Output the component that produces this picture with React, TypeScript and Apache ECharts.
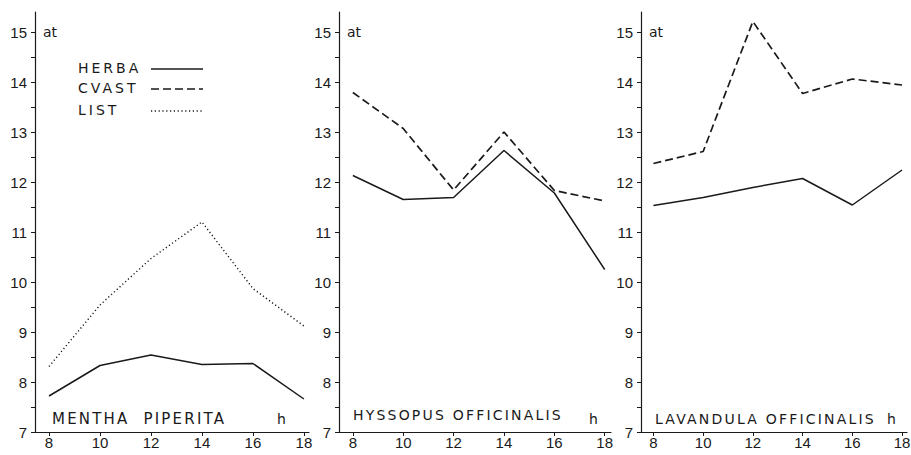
import React, { useEffect, useRef } from "react";
import * as echarts from "echarts";

// ---- data ----
const hours = [8, 10, 12, 14, 16, 18];
const yLabelValues = [7, 8, 9, 10, 11, 12, 13, 14, 15];
const yTickValues = [7, 7.5, 8, 8.5, 9, 9.5, 10, 10.5, 11, 11.5, 12, 12.5, 13, 13.5, 14, 14.5, 15];

const menthaHerba = [7.72, 8.33, 8.54, 8.35, 8.37, 7.66];
const menthaList = [8.31, 9.54, 10.47, 11.2, 9.87, 9.12];

const hyssopusHerba = [12.13, 11.65, 11.69, 12.63, 11.78, 10.25];
const hyssopusCvast = [13.79, 13.07, 11.84, 13.0, 11.83, 11.62];

const lavandulaHerba = [11.53, 11.69, 11.89, 12.07, 11.54, 12.24];
const lavandulaCvast = [12.37, 12.61, 15.21, 13.77, 14.06, 13.94];

const speciesNames = ["MENTHA  PIPERITA", "HYSSOPUS OFFICINALIS", "LAVANDULA OFFICINALIS"];
const legendNames = ["HERBA", "CVAST", "LIST"];

const INK = "#1a1a1a";
const FONT = "DejaVu Sans";
const NUM_FONT = "Liberation Sans Narrow, Liberation Sans";
const SPACED = "DejaVu Sans, Roboto";
const WIDE = "DejaVu Sans, Lato";

const pairs = (vals: number[]) => hours.map((h, i) => [h, vals[i]]);

const panels = [
  { left: 35, width: 274, xMin: 7.45, xMax: 18.2, hGap: -32, nameLeft: 52, nameTop: 410, nameSize: 15 },
  { left: 339, width: 272, xMin: 7.45, xMax: 18.25, hGap: -22, nameLeft: 353, nameTop: 406, nameSize: 14 },
  { left: 641, width: 266, xMin: 7.5, xMax: 18.2, hGap: -20, nameLeft: 655, nameTop: 410, nameSize: 14 },
];

const lineStyles: Record<string, any> = {
  HERBA: { color: INK, width: 1.5, type: "solid" },
  CVAST: { color: INK, width: 1.7, type: [8, 4] },
  LIST: { color: INK, width: 1.4, type: [1.2, 2.6] },
};

export default function App() {
  const ref = useRef<HTMLDivElement>(null);

  useEffect(() => {
    document.body.style.margin = "0";
    if (!ref.current) return;
    const chart = echarts.init(ref.current, null, { renderer: "svg" });

    const grid = panels.map((p) => ({
      left: p.left,
      width: p.width,
      top: 12,
      height: 420,
      outerBoundsMode: "none",
      containLabel: false,
    }));

    const xAxis = panels.map((p, i) => ({
      type: "value",
      gridIndex: i,
      min: p.xMin,
      max: p.xMax,
      name: "h",
      nameLocation: "end",
      nameGap: p.hGap,
      nameMoveOverlap: false,
      nameTextStyle: { fontSize: 14, fontFamily: FONT, color: INK, align: "left", verticalAlign: "bottom", padding: [0, 0, 6, 0] },
      axisLine: { show: true, onZero: false, lineStyle: { color: INK, width: 1.2 } },
      axisTick: { show: true, customValues: hours, length: 4, inside: false, lineStyle: { color: INK, width: 1 } },
      axisLabel: { customValues: hours, fontSize: 15, fontFamily: NUM_FONT, color: INK, margin: 3 },
      splitLine: { show: false },
    }));

    const yAxis = panels.map((p, i) => ({
      type: "value",
      gridIndex: i,
      position: "left",
      min: 7,
      max: 15.4,
      name: "at",
      nameLocation: "end",
      nameGap: -20,
      nameMoveOverlap: false,
      nameTextStyle: { fontSize: 14, fontFamily: FONT, color: INK, align: "left", verticalAlign: "middle", padding: [0, 0, 0, 8] },
      axisLine: { show: true, onZero: false, lineStyle: { color: INK, width: 1.2 } },
      axisTick: { show: true, customValues: yTickValues, length: 4, inside: false, lineStyle: { color: INK, width: 1 } },
      axisLabel: { customValues: yLabelValues, fontSize: 15, fontFamily: NUM_FONT, color: INK, margin: 8 },
      splitLine: { show: false },
    }));

    const mk = (name: string, vals: number[], idx: number) => ({
      type: "line",
      name,
      xAxisIndex: idx,
      yAxisIndex: idx,
      data: pairs(vals),
      symbol: "none",
      lineStyle: lineStyles[name],
      silent: true,
    });

    const series = [
      mk("HERBA", menthaHerba, 0),
      mk("LIST", menthaList, 0),
      mk("HERBA", hyssopusHerba, 1),
      mk("CVAST", hyssopusCvast, 1),
      mk("HERBA", lavandulaHerba, 2),
      mk("CVAST", lavandulaCvast, 2),
    ];

    const title = panels.map((p, i) => ({
      text: speciesNames[i],
      left: p.nameLeft,
      top: p.nameTop,
      padding: 0,
      textStyle: { fontSize: p.nameSize, fontWeight: "normal", fontFamily: SPACED, color: INK, lineHeight: 18 },
    }));

    const legendY = [69, 89, 111];
    const graphic = legendNames.flatMap((n, i) => [
      {
        type: "text",
        left: 78,
        top: legendY[i] - 8,
        style: { text: n, fontSize: 14, fontFamily: WIDE, fill: INK },
      },
      {
        type: "line",
        shape: { x1: 151, y1: legendY[i], x2: 203, y2: legendY[i] },
        style: {
          stroke: INK,
          lineWidth: lineStyles[n].width,
          lineDash: Array.isArray(lineStyles[n].type) ? lineStyles[n].type : null,
        },
      },
    ]);

    chart.setOption({
      animation: false,
      backgroundColor: "#ffffff",
      title,
      grid,
      xAxis,
      yAxis,
      series,
      graphic,
    });

    return () => chart.dispose();
  }, []);

  return (
    <>
      <style>{`
        text[style*="Roboto"] { letter-spacing: 2.2px; }
        text[style*="Lato"] { letter-spacing: 3px; }
      `}</style>
      <div ref={ref} style={{ width: 911, height: 455 }} />
    </>
  );
}
